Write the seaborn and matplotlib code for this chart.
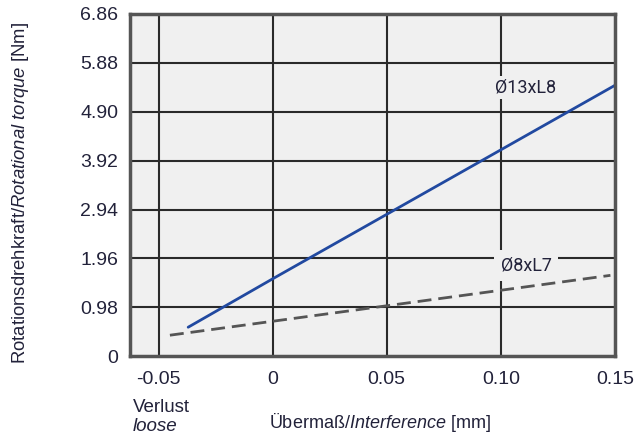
import pandas as pd
import seaborn as sns
import matplotlib.pyplot as plt

# data
interference_13 = [-0.037, 0.0, 0.15]
torque_13 = [0.58, 1.55, 5.43]
interference_8 = [-0.045, 0.05, 0.148]
torque_8 = [0.42, 1.01, 1.62]
y_ticks = [0, 0.98, 1.96, 2.94, 3.92, 4.90, 5.88, 6.86]
y_tick_labels = ["0", "0.98", "1.96", "2.94", "3.92", "4.90", "5.88", "6.86"]
x_ticks = [-0.05, 0, 0.05, 0.10, 0.15]
x_tick_labels = ["-0.05", "0", "0.05", "0.10", "0.15"]

df13 = pd.DataFrame({"x": interference_13, "y": torque_13})
df8 = pd.DataFrame({"x": interference_8, "y": torque_8})

sns.set_style("white", {"axes.facecolor": "#f0f0f0"})
plt.rcParams["font.family"] = ["Liberation Sans", "DejaVu Sans"]
plt.rcParams["mathtext.fontset"] = "custom"
plt.rcParams["mathtext.rm"] = "Liberation Sans"
plt.rcParams["mathtext.it"] = "Liberation Sans:italic"

txt = "#22223a"
fig = plt.figure(figsize=(6.34, 4.37), dpi=100)
ax = fig.add_axes([0.205, 0.185, 0.765, 0.783])

#gridlines
for xv in x_ticks[:-1]:
    ax.axvline(xv, color="#2a2a2a", lw=1.5, zorder=1)
for yv in y_ticks[1:-1]:
    ax.axhline(yv, color="#2a2a2a", lw=1.5, zorder=1)

sns.lineplot(data=df13, x="x", y="y", color="#2149a0", lw=2, ax=ax, zorder=3)
sns.lineplot(data=df8, x="x", y="y", color="#555555", lw=2, ax=ax, zorder=3,
             linestyle=(0, (5, 2.5)))

ax.text(0.111, 5.39, "Ø13xL8", fontsize=13, family="Roboto", color=txt,
        ha="center", va="center", zorder=4,
        bbox=dict(facecolor="#f0f0f0", edgecolor="none", pad=2))
ax.text(0.111, 1.82, "Ø8xL7", fontsize=13, family="Roboto", color=txt,
        ha="center", va="center", zorder=4,
        bbox=dict(facecolor="#f0f0f0", edgecolor="none", pad=5))

ax.set_xlim(-0.0625, 0.15)
ax.set_ylim(0, 6.86)
ax.set_xticks(x_ticks)
ax.set_xticklabels(x_tick_labels, fontsize=14, color=txt)
ax.set_yticks(y_ticks)
ax.set_yticklabels(y_tick_labels, fontsize=14, color=txt)
ax.tick_params(axis="x", length=0, pad=11)
ax.tick_params(axis="y", length=0, pad=8.5)
for s in ax.spines.values():
    s.set_color("#555555")
    s.set_linewidth(2.5)
    s.set_zorder(5)

ax.set_xlabel("")
ax.set_ylabel("")
fig.text(0.6, 0.034, r"Übermaß/$\it{Interference}$ [mm]", fontsize=13,
         color=txt, ha="center", va="center")
fig.text(0.21, 0.068, "Verlust", fontsize=13.5, color=txt, ha="left", va="center")
fig.text(0.21, 0.024, "loose", fontsize=13.5, color=txt, ha="left",
         va="center", style="italic")
fig.text(0.032, 0.558, r"Rotationsdrehkraft/$\it{Rotational\ torque}$ [Nm]",
         fontsize=13.3, color=txt, ha="center", va="center", rotation=90)

fig.savefig("out.png", dpi=100)
